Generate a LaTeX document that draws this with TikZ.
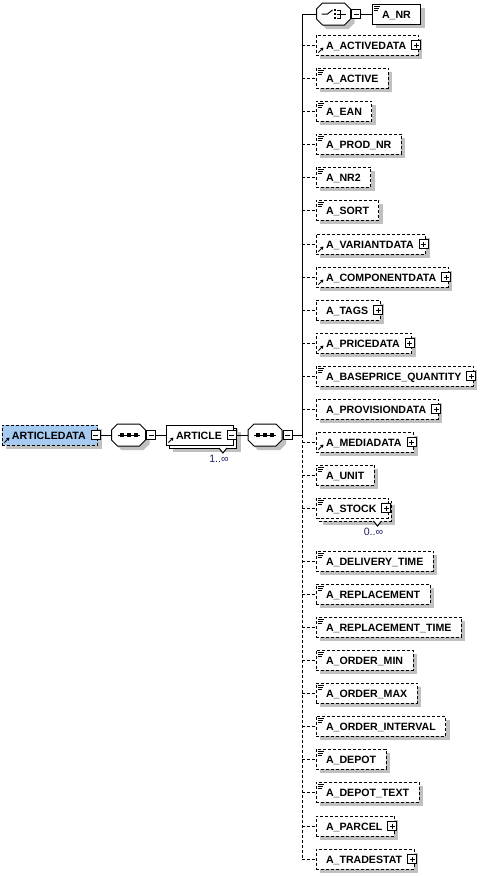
\documentclass[tikz,border=0pt]{standalone}
\usepackage{fontspec}
\setmainfont{Liberation Sans}
\usetikzlibrary{arrows.meta, calc}
\usepackage{xcolor}
\definecolor{shadowgray}{RGB}{192,192,192}
\definecolor{globalblue}{RGB}{166,202,240}
\definecolor{occurnavy}{RGB}{30,30,100}

% Rahmen eines Kompositors (Achteck) um den Knoten #1
\newcommand{\compframe}[1]{%
  \draw[fill=white, shadowed] ([shift={(6,0)}]#1.north west) -- ([shift={(-6,0)}]#1.north east)
    -- ([shift={(0,6)}]#1.north east) -- ([shift={(0,-6)}]#1.south east)
    -- ([shift={(-6,0)}]#1.south east) -- ([shift={(6,0)}]#1.south west)
    -- ([shift={(0,-6)}]#1.south west) -- ([shift={(0,6)}]#1.north west) -- cycle;}
% Symbol Sequenz
\newcommand{\seqglyph}[1]{%
  \draw ([xshift=-11pt]#1.center) -- ([xshift=11pt]#1.center);
  \foreach \dx in {-7,0,7}
    \fill[black] ([shift={(\dx-2,-2)}]#1.center) rectangle ++(4,4);}
% Symbol Auswahl
\newcommand{\choiceglyph}[1]{%
  \draw ([xshift=-12pt]#1.center) -- ([xshift=-6pt]#1.center) -- ++(5,-4);
  \foreach \dy in {-4,0,4}
    \fill[black] ([shift={(0,\dy-1.2)}]#1.center) rectangle ++(2.5,2.5);
  \draw ([shift={(3,-4)}]#1.center) -- ++(4,0) -- ++(0,8) -- ++(-4,0)
    ([shift={(3,0)}]#1.center) -- ++(9,0);}

\begin{document}
\begin{tikzpicture}[x=1pt, y=-1pt, line width=1pt,
    shadowed/.style={preaction={fill=shadowgray, transform canvas={shift={(4pt,-4pt)}}}},
    multi/.style={preaction={fill=shadowgray, transform canvas={shift={(7pt,-7pt)}}},
                  preaction={draw, fill=white, transform canvas={shift={(3pt,-3pt)}}}},
    elem/.style={draw, fill=white, shadowed, anchor=west, outer sep=0pt,
                 minimum height=20pt, inner xsep=10pt, inner ysep=0pt,
                 text height=9.4pt, text depth=0pt,
                 font=\bfseries\fontsize{10.6}{12}\selectfont},
    optional/.style={dash pattern=on 3pt off 2pt},
    pad0/.style={},
    pad1/.style={execute at end node={\hspace{2pt}}},
    noicon/.style={},
    docicon/.style={path picture={
        \draw[solid, line width=0.8pt]
          ([shift={(2,2.5)}]path picture bounding box.north west) -- ++(6,0)
          ([shift={(2,4.5)}]path picture bounding box.north west) -- ++(5,0)
          ([shift={(2,6.5)}]path picture bounding box.north west) -- ++(4,0);}},
    reficon/.style={path picture={
        \draw[solid, -{Triangle[length=3pt, width=3.5pt]}]
          ([shift={(2.5,-2.5)}]path picture bounding box.south west) -- ++(5,-5);}},
    docmulti/.style={multi, docicon},
    minussign/.style={draw, solid, fill=white, minimum size=9pt, inner sep=0pt, outer sep=0pt,
        path picture={\draw ([xshift=2pt]path picture bounding box.west)
          -- ([xshift=-2pt]path picture bounding box.east);}},
    plussign/.style={minussign,
        path picture={\draw ([xshift=2pt]path picture bounding box.west)
          -- ([xshift=-2pt]path picture bounding box.east)
          ([yshift=2pt]path picture bounding box.south)
          -- ([yshift=-2pt]path picture bounding box.north);}},
    compbox/.style={minimum width=34pt, minimum height=22pt, inner sep=0pt, outer sep=0pt},
    occurs/.style={font=\fontsize{10.6}{12}\selectfont, text=occurnavy, inner sep=0pt}
  ]
    \useasboundingbox (0,0) rectangle (480,876);
    % Hauptkette
    \node[elem, optional, fill=globalblue, reficon, pad1] (adata) at (2,435) {ARTICLEDATA};
    \node[minussign] (adata-pm) at ([xshift=-2pt]adata.east) {};
    \node[compbox] (seqouter) at (128.5,435) {};
    \compframe{seqouter}
    \seqglyph{seqouter}
    \node[minussign, anchor=west] (seqouter-pm) at ([xshift=1pt]seqouter.east) {};
    \node[elem, reficon, multi, pad1] (art) at (166,435) {ARTICLE};
    \node[minussign] (art-pm) at ([xshift=-2pt]art.east) {};
    \draw[fill=white] ([shift={(-15,3)}]art.south east) -- ++(4,5) -- ++(4,-5);
    \node[occurs] (art-occ) at ([shift={(-15,14)}]art.south east) {1..∞};
    \node[compbox] (seqinner) at (265,435) {};
    \compframe{seqinner}
    \seqglyph{seqinner}
    \node[minussign, anchor=west] (seqinner-pm) at ([xshift=1pt]seqinner.east) {};
    \coordinate (trunkjoin) at (302,435);
    \coordinate (trunktop) at (302,14);
    % Auswahl oben
    \node[compbox] (choice) at (333.5,14) {};
    \compframe{choice}
    \choiceglyph{choice}
    \node[minussign, anchor=west] (choice-pm) at ([xshift=1pt]choice.east) {};
    \node[elem, docicon] (anr) at (372,14) {A\_NR};
    % Kindelemente
    \foreach \y/\nm/\lbl/\ic/\ex in {
        45/activedata/A\_ACTIVEDATA/reficon/1,
        78/active/A\_ACTIVE/docicon/0,
        111/ean/A\_EAN/docicon/0,
        144/prodnr/A\_PROD\_NR/docicon/0,
        177/nrtwo/A\_NR2/docicon/0,
        210/sort/A\_SORT/docicon/0,
        244/variantdata/A\_VARIANTDATA/reficon/1,
        277/componentdata/A\_COMPONENTDATA/reficon/1,
        310/tags/A\_TAGS/noicon/1,
        343/pricedata/A\_PRICEDATA/reficon/1,
        376/basepriceqty/A\_BASEPRICE\_QUANTITY/docicon/1,
        409/provisiondata/A\_PROVISIONDATA/noicon/1,
        442/mediadata/A\_MEDIADATA/reficon/1,
        475/unit/A\_UNIT/docicon/0,
        508/stock/A\_STOCK/docmulti/1,
        561/deliverytime/A\_DELIVERY\_TIME/docicon/0,
        594/replacement/A\_REPLACEMENT/docicon/0,
        627/replacementtime/A\_REPLACEMENT\_TIME/docicon/0,
        660/ordermin/A\_ORDER\_MIN/docicon/0,
        693/ordermax/A\_ORDER\_MAX/docicon/0,
        726/orderinterval/A\_ORDER\_INTERVAL/docicon/0,
        759/depot/A\_DEPOT/docicon/0,
        792/depottext/A\_DEPOT\_TEXT/docicon/0,
        826/parcel/A\_PARCEL/noicon/1,
        859/tradestat/A\_TRADESTAT/noicon/1}
    {
      \coordinate (\nm-j) at (302,\y);
      \node[elem, optional, \ic, pad\ex] (\nm) at (316,\y) {\lbl};
      \ifnum\ex=1 \node[plussign] (\nm-pm) at ([xshift=-2pt]\nm.east) {}; \fi
      \draw[optional] (\nm-j) -- (\nm);
    }
    \draw[fill=white] ([shift={(-15,3)}]stock.south east) -- ++(4,5) -- ++(4,-5);
    \node[occurs] (stock-occ) at ([shift={(-15,14)}]stock.south east) {0..∞};
    % Verbindungen
    \draw (adata-pm) -- (seqouter);
    \draw (seqouter-pm) -- (art);
    \draw (art-pm) -- (seqinner);
    \draw (seqinner-pm) -- (trunkjoin);
    \draw (trunktop) -- (choice);
    \draw (choice-pm) -- (anr);
    \draw (trunktop) -- (trunkjoin);
    \draw[optional] (trunkjoin) -- (tradestat-j);
  \end{tikzpicture}
\end{document}
